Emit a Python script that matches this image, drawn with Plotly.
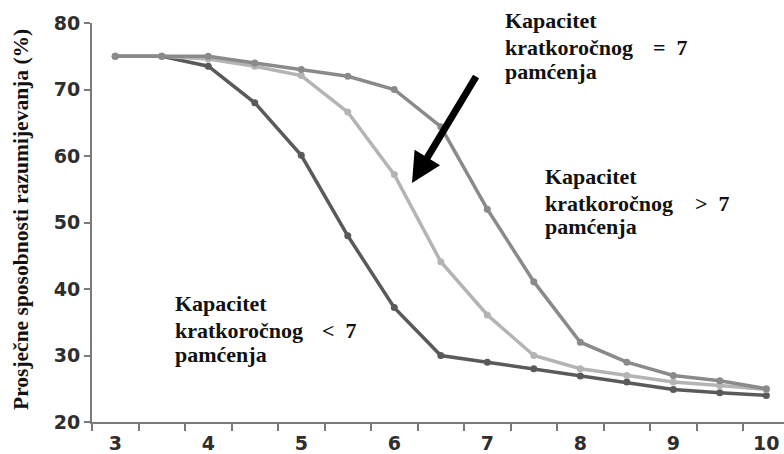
import plotly.graph_objects as go

x_vals = [3, 3.5, 4, 4.5, 5, 5.5, 6, 6.5, 7, 7.5, 8, 8.5, 9, 9.5, 10]
low_vals = [75, 75, 73.5, 68.0, 60.1, 48.0, 37.2, 30.0, 29.0, 28.0, 26.9, 26.0, 24.9, 24.4, 24.0]
equal_vals = [75, 75, 74.6, 73.5, 72.1, 66.6, 57.2, 44.1, 36.1, 30.0, 28.0, 27.0, 26.0, 25.5, 24.9]
high_vals = [75, 75, 75, 74.0, 73.0, 72.0, 70.0, 64.4, 52.0, 41.1, 32.0, 29.0, 27.0, 26.2, 25.0]
x_tick_vals = [3, 4, 5, 6, 7, 8, 9, 10]
y_tick_vals = [20, 30, 40, 50, 60, 70, 80]
y_title = "Prosječne sposobnosti razumijevanja (%)"
label_lines = ["Kapacitet", "kratkoročnog", "pamćenja"]
label_syms = ["=&nbsp;&nbsp;7", "&gt;&nbsp;&nbsp;7", "&lt;&nbsp;&nbsp;7"]

W, H = 784, 454
ML, MR, MT, MB = 92, 0, 23, 32
XR = [2.75, 10.19]
YR = [20, 80]
PW, PH = W - ML - MR, H - MT - MB

def paper_x(p):
    return (p - ML) / PW

def paper_y(p):
    return (H - MB - p) / PH

def px_x(p):
    return XR[0] + (p - ML) / PW * (XR[1] - XR[0])

def px_y(p):
    return YR[1] - (p - MT) / PH * (YR[1] - YR[0])

fig = go.Figure()
series = [
    (low_vals, "#5a5a5a", 3.5),
    (equal_vals, "#b4b4b4", 3.5),
    (high_vals, "#8a8a8a", 3.5),
]
for vals, col, w in series:
    fig.add_trace(go.Scatter(x=x_vals, y=vals, mode="lines+markers",
                             line=dict(color=col, width=w),
                             marker=dict(color=col, size=7),
                             showlegend=False))

serif = "Liberation Serif"
FS = 22
afont = dict(family=serif, size=FS, color="#111111")
OFF = 0.3375 * FS  # baseline -> box centre

def label(left_px, baselines, sym, sym_px):
    for txt, b in zip(label_lines, baselines):
        fig.add_annotation(x=paper_x(left_px), y=paper_y(b - OFF), xref="paper", yref="paper",
                           text="<b>" + txt + "</b>", showarrow=False, xanchor="left",
                           yanchor="middle", align="left", font=afont)
    fig.add_annotation(x=paper_x(sym_px), y=paper_y(baselines[1] - OFF), xref="paper", yref="paper",
                       text="<b>" + sym + "</b>", showarrow=False, xanchor="left",
                       yanchor="middle", align="left", font=afont)

label(503, [28.3, 55, 78.5], label_syms[0], 651)
label(543, [183.5, 210.5, 233.5], label_syms[1], 693)
label(173, [311, 337.5, 362], label_syms[2], 320)

# arrow
fig.add_annotation(x=px_x(412), y=px_y(183), xref="x", yref="y",
                   ax=65, ay=-108, text="", showarrow=True,
                   arrowhead=2, arrowsize=0.85, arrowwidth=7, arrowcolor="#000000")

# y-axis title
fig.add_annotation(x=paper_x(21), y=paper_y(220),
                   xref="paper", yref="paper", text="<b>" + y_title + "</b>",
                   xanchor="center", yanchor="middle",
                   textangle=-90, showarrow=False, font=dict(family=serif, size=21.5, color="#111111"))

tickfont = dict(family="DejaVu Sans", size=19, color="#2e2e2e")
fig.update_xaxes(range=XR, tickvals=x_tick_vals, ticktext=[f"<b>{v}</b>" for v in x_tick_vals],
                 ticks="", showgrid=False, zeroline=False, showline=True, automargin=False,
                 linecolor="#7a7a7a", linewidth=2, tickfont=tickfont, ticklabelstandoff=3,
                 minor=dict(tick0=2.75, dtick=0.5, ticks="outside", ticklen=7,
                            tickcolor="#7a7a7a", tickwidth=1.5, showgrid=False))
fig.update_yaxes(range=YR, tickvals=y_tick_vals, ticktext=[f"<b>{v}</b>" for v in y_tick_vals],
                 ticks="outside", ticklen=6, tickcolor="#7a7a7a", tickwidth=1.5, automargin=False,
                 showgrid=False, zeroline=False, showline=True,
                 linecolor="#7a7a7a", linewidth=2, tickfont=tickfont)
fig.update_layout(width=W, height=H, margin=dict(l=ML, r=MR, t=MT, b=MB),
                  plot_bgcolor="white", paper_bgcolor="white")
fig.write_html("out.html", config={"displayModeBar": False},
               post_script="document.body.style.margin='0px';document.body.style.overflow='hidden';")
